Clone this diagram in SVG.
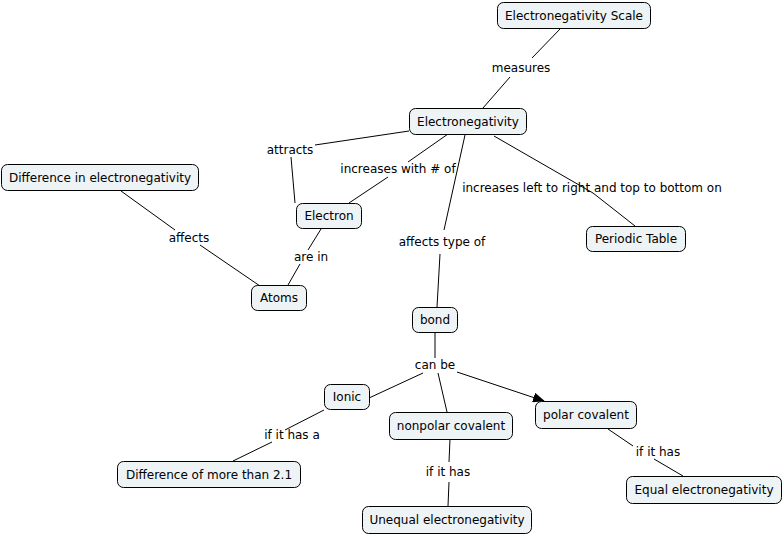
<svg xmlns="http://www.w3.org/2000/svg" width="783" height="536" viewBox="0 0 783 536">
<style>
.n rect{fill:#eef3f5;stroke:#000;stroke-width:1}
text{font-family:"DejaVu Sans",Verdana,sans-serif;font-size:12px;fill:#000;text-anchor:middle}
.c line,.c polyline{stroke:#000;stroke-width:1;fill:none}
</style>
<defs>
<marker id="ah" markerWidth="12" markerHeight="10" refX="11" refY="5" orient="auto" markerUnits="userSpaceOnUse"><path d="M0,0 L12,5 L0,10 Z" fill="#000"/></marker>
</defs>
<rect width="783" height="536" fill="#fff"/>
<g class="c">
<line x1="561" y1="28" x2="532" y2="58"/><line x1="510" y1="77" x2="483" y2="108"/>
<line x1="409" y1="131" x2="315" y2="145"/><line x1="291" y1="157" x2="295" y2="203"/>
<line x1="448" y1="134" x2="408" y2="162"/><line x1="388" y1="177" x2="349" y2="203"/>
<polyline points="494,136 593,193 635,226"/>
<line x1="465" y1="135" x2="444" y2="230"/><line x1="440" y1="254" x2="437" y2="307"/>
<line x1="121" y1="191" x2="175" y2="230"/><line x1="200" y1="245" x2="260" y2="286"/>
<line x1="321" y1="229" x2="308" y2="250"/><line x1="300" y1="264" x2="288" y2="285"/>
<line x1="435" y1="332" x2="435" y2="358"/>
<line x1="423" y1="373" x2="369" y2="398"/>
<line x1="438" y1="373" x2="447" y2="412"/>
<line x1="457" y1="372" x2="544" y2="401" marker-end="url(#ah)"/>
<line x1="324" y1="410" x2="285" y2="430"/><line x1="272" y1="442" x2="233" y2="461"/>
<line x1="450" y1="439" x2="449" y2="462"/><line x1="449" y1="482" x2="448" y2="506"/>
<line x1="608" y1="429" x2="633" y2="446"/><line x1="654" y1="459" x2="683" y2="476"/>
</g>
<g class="l">
<text x="521" y="68" dy=".35em">measures</text>
<text x="290" y="150" dy=".35em">attracts</text>
<text x="398" y="169" dy=".35em">increases with # of</text>
<text x="592" y="188" dy=".35em">increases left to right and top to bottom on</text>
<text x="442" y="242" dy=".35em">affects type of</text>
<text x="189" y="238" dy=".35em">affects</text>
<text x="311" y="257" dy=".35em">are in</text>
<text x="435" y="365" dy=".35em">can be</text>
<text x="292" y="435" dy=".35em">if it has a</text>
<text x="448" y="472" dy=".35em">if it has</text>
<text x="658" y="452" dy=".35em">if it has</text>
</g>
<g id="n1" class="n"><rect x="497.5" y="2.5" width="153" height="26" rx="6"/><text x="574" y="15.5" dy=".35em">Electronegativity Scale</text></g>
<g id="n2" class="n"><rect x="409.5" y="108.5" width="117" height="26" rx="6"/><text x="468" y="121.5" dy=".35em">Electronegativity</text></g>
<g id="n3" class="n"><rect x="1.5" y="164.5" width="197" height="26" rx="6"/><text x="100" y="177.5" dy=".35em">Difference in electronegativity</text></g>
<g id="n4" class="n"><rect x="296.5" y="203.5" width="65" height="25" rx="6"/><text x="329" y="216" dy=".35em">Electron</text></g>
<g id="n5" class="n"><rect x="586.5" y="226.5" width="99" height="25" rx="6"/><text x="636" y="239" dy=".35em">Periodic Table</text></g>
<g id="n6" class="n"><rect x="251.5" y="285.5" width="55" height="25" rx="6"/><text x="279" y="298" dy=".35em">Atoms</text></g>
<g id="n7" class="n"><rect x="412.5" y="307.5" width="45" height="25" rx="6"/><text x="435" y="320" dy=".35em">bond</text></g>
<g id="n8" class="n"><rect x="324.5" y="384.5" width="45" height="25" rx="6"/><text x="347" y="397" dy=".35em">Ionic</text></g>
<g id="n9" class="n"><rect x="389.5" y="412.5" width="123" height="27" rx="6"/><text x="451" y="426" dy=".35em">nonpolar covalent</text></g>
<g id="n10" class="n"><rect x="535.5" y="401.5" width="101" height="27" rx="6"/><text x="586" y="415" dy=".35em">polar covalent</text></g>
<g id="n11" class="n"><rect x="117.5" y="461.5" width="183" height="26" rx="6"/><text x="209" y="474.5" dy=".35em">Difference of more than 2.1</text></g>
<g id="n12" class="n"><rect x="626.5" y="476.5" width="155" height="27" rx="6"/><text x="704" y="490" dy=".35em">Equal electronegativity</text></g>
<g id="n13" class="n"><rect x="362.5" y="506.5" width="169" height="27" rx="6"/><text x="447" y="520" dy=".35em">Unequal electronegativity</text></g>
</svg>
